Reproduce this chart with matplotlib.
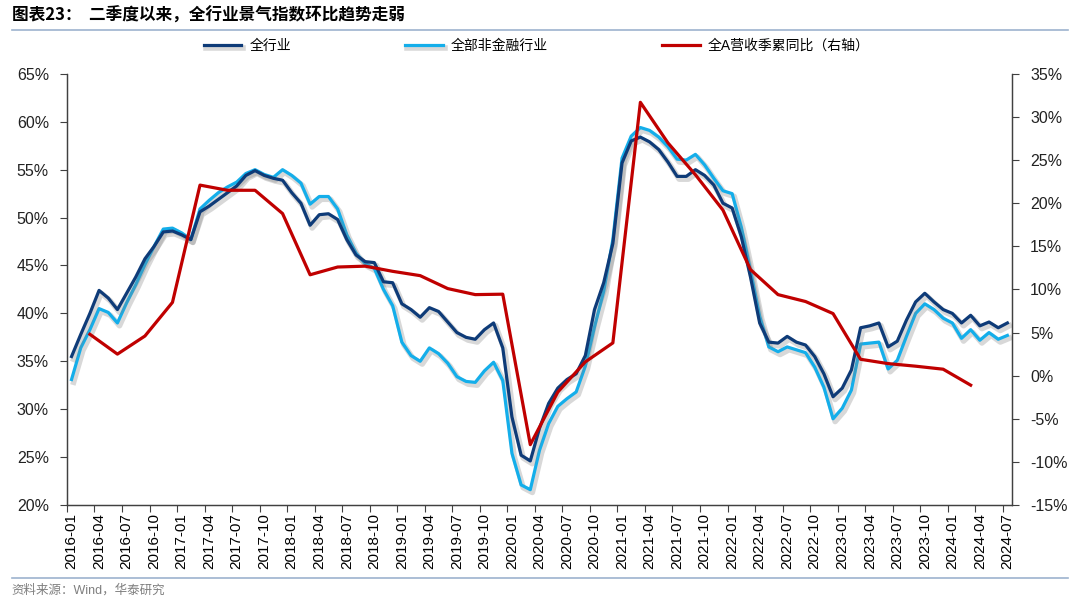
import matplotlib
matplotlib.use("Agg")
import matplotlib.pyplot as plt
import matplotlib.patheffects as pe
from matplotlib.ticker import FixedLocator, FuncFormatter

plt.rcParams["font.family"] = ["Liberation Sans", "Noto Sans CJK SC"]

# monthly, 2016-01 .. 2024-07
months = [f"{y}-{m:02d}" for y in range(2016, 2025) for m in range(1, 13)][:103]

all_ind = [
    35.5, 37.8, 40.0, 42.4, 41.6, 40.4, 42.1, 43.8, 45.7, 47.0, 48.5, 48.6,
    48.2, 47.7, 50.6, 51.2, 51.9, 52.6, 53.3, 54.4, 54.9, 54.4, 54.1, 53.9,
    52.6, 51.5, 49.2, 50.3, 50.4, 49.8, 47.7, 46.1, 45.4, 45.3, 43.3, 43.2,
    41.0, 40.4, 39.6, 40.6, 40.2, 39.1, 38.0, 37.5, 37.3, 38.3, 39.0, 36.4,
    29.2, 25.2, 24.6, 28.0, 30.6, 32.2, 33.1, 33.7, 35.6, 40.4, 43.2, 47.3,
    55.7, 58.0, 58.4, 57.9, 57.1, 55.8, 54.3, 54.3, 55.0, 54.4, 53.4, 51.5,
    51.0, 48.0, 43.8, 39.0, 37.0, 36.9, 37.6, 37.0, 36.7, 35.5, 33.7, 31.3,
    32.2, 34.1, 38.5, 38.7, 39.0, 36.5, 37.1, 39.3, 41.2, 42.1, 41.2, 40.4,
    40.0, 39.0, 39.8, 38.7, 39.1, 38.5, 39.0,
]

non_fin = [
    33.1, 36.4, 38.3, 40.5, 40.1, 39.0, 41.1, 43.0, 45.1, 47.0, 48.8, 48.9,
    48.4, 47.7, 50.9, 51.8, 52.6, 53.2, 53.7, 54.6, 55.0, 54.5, 54.2, 55.0,
    54.4, 53.6, 51.4, 52.2, 52.2, 50.9, 48.2, 46.3, 45.2, 44.7, 42.5, 40.8,
    37.0, 35.6, 35.0, 36.4, 35.8, 34.8, 33.4, 32.9, 32.8, 34.0, 34.9, 33.0,
    25.4, 22.1, 21.6, 25.7, 28.5, 30.3, 31.1, 31.8, 34.5, 38.6, 42.3, 47.7,
    56.2, 58.5, 59.4, 59.1, 58.4, 57.4, 56.1, 56.0, 56.6, 55.5, 54.1, 52.8,
    52.5, 49.0, 44.5, 39.7, 36.5, 36.0, 36.5, 36.2, 35.9, 34.4, 32.3, 29.0,
    30.1, 32.0, 36.8, 36.9, 37.0, 34.2, 35.1, 37.6, 40.0, 41.0, 40.4, 39.5,
    39.0, 37.4, 38.3, 37.2, 38.0, 37.3, 37.7,
]

# quarterly (Mar/Jun/Sep/Dec), 2016Q1 .. 2024Q1
rev_idx = list(range(2, 99, 3))
rev_yoy = [
    4.8, 2.5, 4.6, 8.5, 22.1, 21.5, 21.5, 18.8, 11.7, 12.6, 12.7, 12.1,
    11.6, 10.1, 9.4, 9.45, -8.0, -1.9, 1.6, 3.8, 31.7, 27.0, 23.3, 19.2,
    12.3, 9.4, 8.6, 7.2, 1.9, 1.4, 1.1, 0.75, -1.1,
]

navy = "#0E3B78"
sky = "#14AEEA"
red = "#C00000"

fig = plt.figure(figsize=(10.8, 6.03), dpi=100)
ax = fig.add_axes([0.062, 0.1625, 0.875, 0.715])
ax2 = ax.twinx()

x = list(range(len(months)))
shadow = [pe.SimpleLineShadow(offset=(1.5, -2.0), shadow_color="#808080", alpha=0.3, linewidth=4),
          pe.Normal()]
l1, = ax.plot(x, all_ind, color=navy, lw=2.3, label="全行业", path_effects=shadow, zorder=3)
l2, = ax.plot(x, non_fin, color=sky, lw=2.3, label="全部非金融行业", path_effects=shadow, zorder=2)
l3, = ax2.plot(rev_idx, rev_yoy, color=red, lw=2.3, label="全A营收季累同比（右轴）")

ax.set_xlim(-0.5, len(months) - 0.5)
ax.set_ylim(20, 65)
ax2.set_ylim(-15, 35)
ax.set_yticks(range(20, 66, 5))
ax2.set_yticks(range(-15, 36, 5))
pct = FuncFormatter(lambda v, _: f"{v:.0f}%")
ax.yaxis.set_major_formatter(pct)
ax2.yaxis.set_major_formatter(pct)

lab_pos = list(range(0, len(months), 3))
ax.set_xticks(lab_pos)
ax.set_xticklabels([months[i] for i in lab_pos], rotation=90, fontsize=11)
ax.xaxis.set_minor_locator(FixedLocator([i - 0.5 for i in range(0, len(months) + 1, 3)]))
ax.tick_params(axis="x", which="major", length=0, pad=6)
ax.tick_params(axis="x", which="minor", length=5, width=0.8, color="#404040")

for a in (ax, ax2):
    a.tick_params(axis="y", length=5, width=0.8, color="#404040", labelsize=11.5,
                  labelcolor="#222222", pad=8)
    a.spines["top"].set_visible(False)
    for s in ("left", "right", "bottom"):
        a.spines[s].set_color("#404040")
        a.spines[s].set_linewidth(0.9)

fig.legend(handles=[l1, l2, l3], loc="center", bbox_to_anchor=(0.497, 0.924), ncol=3,
           frameon=False, fontsize=10, handlelength=2.7, columnspacing=8.2, handletextpad=0.6)

# title & source
fig.text(0.011, 0.974, "图表23：  二季度以来，全行业景气指数环比趋势走弱", fontsize=12,
         fontweight="bold", va="center", ha="left", family=["Noto Sans CJK SC"])
fig.add_artist(plt.Line2D([0.011, 0.989], [0.951, 0.951], color="#9DB3CE", lw=1.2))
fig.add_artist(plt.Line2D([0.011, 0.989], [0.042, 0.042], color="#9DB3CE", lw=1.2))
fig.text(0.011, 0.021, "资料来源：Wind，华泰研究", fontsize=9, color="#7F7F7F", va="center", ha="left")

fig.savefig("out.png", dpi=100)
